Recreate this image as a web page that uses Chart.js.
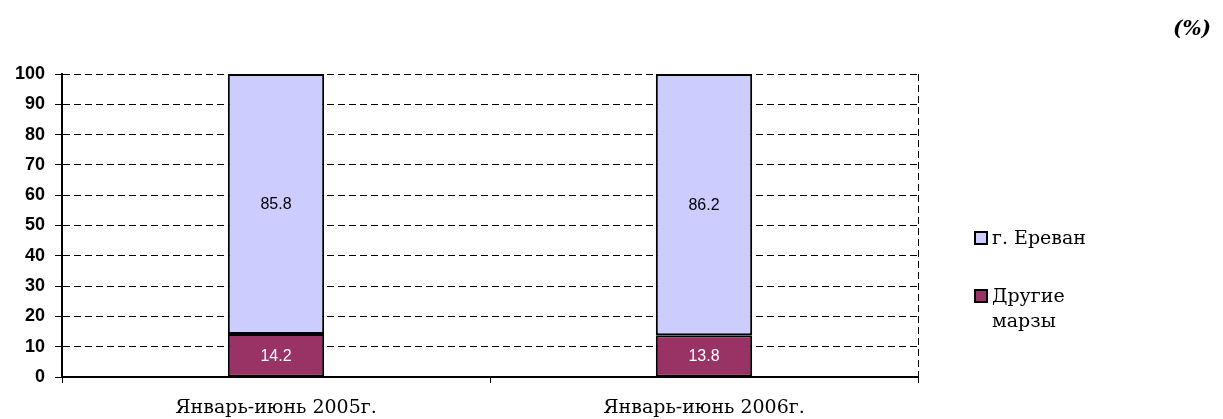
<!DOCTYPE html>
<html><head><meta charset="utf-8">
<script src="https://cdn.jsdelivr.net/npm/chart.js@4/dist/chart.umd.min.js"></script>
<style>html,body{margin:0;padding:0;background:#fff;}#wrap{width:1223px;height:419px;position:relative;}</style>
</head><body><div id="wrap"><canvas id="c" width="1223" height="419"></canvas></div>
<script>
const categories = ['Январь-июнь 2005г.', 'Январь-июнь 2006г.'];
const otherMarzes = [14.2, 13.8];
const yerevan = [85.8, 86.2];
const seriesNames = ['Другие марзы', 'г. Ереван'];
const legendLines = [['г. Ереван'], ['Другие', 'марзы']];
const unitLabel = '(%)';
const yTicks = [0,10,20,30,40,50,60,70,80,90,100];

const SERIF = '"DejaVu Serif", serif';
const SANS = 'Arial, "Liberation Sans", sans-serif';

const labelsPlugin = {
  id: 'labelsPlugin',
  afterDatasetsDraw(chart) {
    const ctx = chart.ctx;
    ctx.save();
    ctx.font = '16px ' + SANS;
    ctx.textAlign = 'center';
    ctx.textBaseline = 'middle';
    chart.data.datasets.forEach((ds, di) => {
      const meta = chart.getDatasetMeta(di);
      meta.data.forEach((bar, i) => {
        const p = bar.getProps(['x','y','base'], true);
        ctx.fillStyle = di === 0 ? '#ffffff' : '#000000';
        ctx.fillText(String(ds.data[i]), p.x, (p.y + p.base) / 2 + 1);
      });
    });
    ctx.restore();
  }
};

const framePlugin = {
  id: 'framePlugin',
  beforeDatasetsDraw(chart) {
    const {ctx, chartArea} = chart;
    ctx.save();
    ctx.strokeStyle = '#000';
    ctx.lineWidth = 1;
    ctx.setLineDash([7,4]);
    ctx.beginPath();
    ctx.moveTo(chartArea.right + 0.5, chartArea.top);
    ctx.lineTo(chartArea.right + 0.5, chartArea.bottom);
    ctx.stroke();
    ctx.restore();
  },
  afterDraw(chart) {
    const {ctx} = chart;
    ctx.save();
    const order = [1, 0];
    const ly = [238, 296];
    order.forEach((di, k) => {
      const ds = chart.data.datasets[di];
      const y = ly[k];
      ctx.fillStyle = ds.backgroundColor;
      ctx.fillRect(975, y - 6, 12, 12);
      ctx.strokeStyle = '#000';
      ctx.lineWidth = 2;
      ctx.setLineDash([]);
      ctx.strokeRect(975, y - 6, 12, 12);
      ctx.fillStyle = '#000';
      ctx.font = '19px ' + SERIF;
      ctx.textAlign = 'left';
      ctx.textBaseline = 'middle';
      legendLines[k].forEach((t, j) => ctx.fillText(t, 992, y + 1 + j * 25));
    });
    ctx.font = 'bold italic 20px ' + SERIF;
    ctx.textAlign = 'right';
    ctx.textBaseline = 'middle';
    ctx.fillText(unitLabel, 1211, 30);
    ctx.restore();
  }
};

new Chart(document.getElementById('c'), {
  type: 'bar',
  data: {
    labels: categories,
    datasets: [
      { label: seriesNames[0], data: otherMarzes, backgroundColor: '#993366', borderColor: '#000', borderWidth: 2, borderSkipped: false },
      { label: seriesNames[1], data: yerevan, backgroundColor: '#CCCCFF', borderColor: '#000', borderWidth: 2, borderSkipped: false }
    ]
  },
  options: {
    responsive: false,
    animation: false,
    layout: { padding: { top: 74, right: 305, left: 0, bottom: 0 } },
    plugins: { legend: { display: false }, tooltip: { enabled: false } },
    datasets: { bar: { categoryPercentage: 1, barPercentage: 0.225 } },
    scales: {
      x: {
        stacked: true,
        grid: { offset: true, drawOnChartArea: false, color: '#000', tickLength: 6, lineWidth: 1 },
        border: { color: '#000', width: 2 },
        ticks: { color: '#000', font: { family: SERIF, size: 19 }, padding: 14 },
        afterFit(s) { s.height = 42; }
      },
      y: {
        stacked: true,
        min: 0, max: 100,
        afterBuildTicks(s) { s.ticks = yTicks.map(v => ({ value: v })); },
        grid: { color: '#000', tickLength: 7, lineWidth: 1 },
        border: { color: '#000', width: 2, dash: [7,4] },
        ticks: { color: '#000', font: { family: SANS, size: 18, weight: 'bold' }, padding: 10 },
        afterFit(s) { s.width = 62; }
      }
    }
  },
  plugins: [labelsPlugin, framePlugin]
});
</script></body></html>
